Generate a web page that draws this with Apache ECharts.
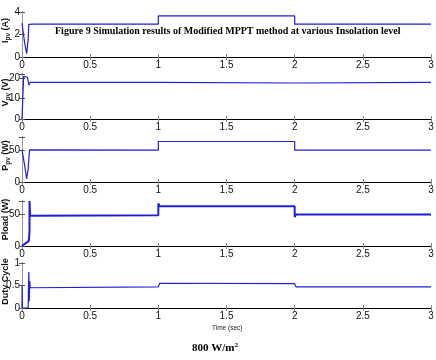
<!DOCTYPE html>
<html>
<head>
<meta charset="utf-8">
<script src="https://cdn.jsdelivr.net/npm/echarts@6/dist/echarts.min.js"></script>
<style>
    html, body { margin: 0; padding: 0; background: #fff; }
    #chart { width: 436px; height: 360px; }
</style>
</head>
<body>
<div id="chart"></div>
<script>
// time axis ticks (sec)
const timeTicks = [0, 0.5, 1, 1.5, 2, 2.5, 3];

// PV current (A)
const ipvTime = [0, 0.005, 0.02, 0.034, 0.045, 0.05, 0.055, 0.06, 0.08, 1.0, 1.0, 2.0, 2.0, 3.0];
const ipvVal = [3.0, 3.0, 1.2, 0.3, 1.5, 2.9, 3.0, 2.9, 2.92, 2.92, 3.65, 3.65, 2.92, 2.92];

// PV voltage (V)
const vpvTime = [0, 0.012, 0.02, 0.04, 0.05, 0.06, 1.0, 1.0, 2.0, 2.0, 3.0];
const vpvVal = [0, 20.8, 20.5, 20.4, 16.5, 17.9, 17.9, 17.6, 17.6, 17.9, 17.9];

// PV power (W)
const ppvTime = [0, 0.008, 0.02, 0.034, 0.045, 0.055, 0.06, 1.0, 1.0, 2.0, 2.0, 3.0];
const ppvVal = [50, 50, 25, 5, 20, 50, 49.5, 49.5, 63, 63, 49.5, 49.5];

// load power (W)
const ploadTime = [0, 0.05, 0.055, 0.055, 0.06, 0.07, 1.0, 1.0, 1.01, 2.0, 2.0, 2.01, 3.0];
const ploadVal = [0, 8, 22, 70, 47, 48, 48, 66, 62, 62, 45, 49, 49];

// duty cycle
const dutyTime = [0, 0.001, 0.003, 0.045, 0.05, 0.053, 0.057, 0.06, 0.07, 1.0, 1.01, 2.0, 2.01, 3.0];
const dutyVal = [0, 0.5, 0, 0, 0.8, 0.15, 0.6, 0.45, 0.47, 0.47, 0.55, 0.54, 0.47, 0.47];

const zip = (t, v) => t.map((x, i) => [x, v[i]]);

const panels = [
    { name: "{m|I}{s|pv}{m| (A)}", max: 4, interval: 2, data: zip(ipvTime, ipvVal), width: 1.2 },
    { name: "{m|V}{s|pv}{m| (V)}", max: 22, interval: 10, data: zip(vpvTime, vpvVal), width: 1.2 },
    { name: "{m|P}{s|pv}{m| (W)}", max: 70, interval: 50, data: zip(ppvTime, ppvVal), width: 1.2 },
    { name: "{m|Pload (W)}", max: 70, interval: 50, data: zip(ploadTime, ploadVal), width: 2 },
    { name: "{m|Duty Cycle}", max: 1, interval: 0.5, data: zip(dutyTime, dutyVal), width: 1.2 },
];
const tops = [12, 74, 137, 201, 263];
const panelH = 45;
const lineColor = "#1f1fd8";

const nameRich = {
    m: { fontSize: 9, fontWeight: "bold", fontFamily: "Liberation Sans", fill: "#111" },
    s: { fontSize: 6.5, fontWeight: "bold", fontFamily: "Liberation Sans", fill: "#111", padding: [4, 0, 0, 0] },
};

const grid = [], xAxis = [], yAxis = [], series = [], names = [];
panels.forEach((p, i) => {
    grid.push({ left: 22, right: 5, top: tops[i], height: panelH, containLabel: false, outerBoundsMode: "none" });
    // bottom axis with labels
    xAxis.push({
        gridIndex: i, type: "value", min: 0, max: 3, interval: 0.5,
        axisLine: { lineStyle: { color: "#000", width: 1 } },
        axisTick: { inside: true, length: 3, lineStyle: { color: "#888" } },
        axisLabel: { color: "#111", fontSize: 10, fontFamily: "Liberation Sans", margin: 3 },
        splitLine: { show: false },
    });
    // top frame
    xAxis.push({
        gridIndex: i, type: "value", min: 0, max: 3, interval: 0.5, position: "top",
        axisLine: { lineStyle: { color: "#000", width: 1 } },
        axisTick: { inside: true, length: 3, lineStyle: { color: "#888" } },
        axisLabel: { show: false },
        splitLine: { show: false },
    });
    yAxis.push({
        gridIndex: i, type: "value", min: 0, max: p.max, interval: p.interval,
        axisLine: { show: true, lineStyle: { color: "#000", width: 1 } },
        axisTick: { inside: true, length: 3, lineStyle: { color: "#555" } },
        axisLabel: {
            color: "#111", fontSize: 10, fontFamily: "Liberation Sans", margin: 2,
            formatter: (v) => (Math.abs(v / p.interval - Math.round(v / p.interval)) < 1e-6 ? String(v) : ""),
        },
        splitLine: { show: false },
    });
    // right frame
    yAxis.push({
        gridIndex: i, type: "value", min: 0, max: p.max, interval: p.interval, position: "right",
        axisLine: { show: true, lineStyle: { color: "#999", width: 1 } },
        axisTick: { inside: true, length: 3, lineStyle: { color: "#555" } },
        axisLabel: { show: false },
        splitLine: { show: false },
    });
    series.push({
        type: "line", xAxisIndex: i * 2, yAxisIndex: i * 2,
        data: p.data, showSymbol: false, animation: false,
        lineStyle: { color: lineColor, width: p.width },
    });
    // rotated axis title
    names.push({
        type: "text", x: 6, y: tops[i] + panelH / 2 - 4, rotation: Math.PI / 2,
        style: { text: p.name, rich: nameRich, align: "center", verticalAlign: "middle" },
    });
});

const chart = echarts.init(document.getElementById("chart"));
chart.setOption({
    backgroundColor: "#fff",
    animation: false,
    grid, xAxis, yAxis, series,
    graphic: names.concat([
        {
            type: "text", left: 55, top: 26,
            style: {
                text: "Figure 9 Simulation results of Modified MPPT method at various Insolation level",
                fontSize: 10, fontWeight: "bold", fontFamily: "Liberation Serif", fill: "#000",
            },
        },
        {
            type: "text", left: 212, top: 325,
            style: { text: "Time (sec)", fontSize: 6.5, fontFamily: "Liberation Sans", fill: "#222" },
        },
        {
            type: "text", left: 192, top: 342,
            style: {
                rich: {
                    b: { fontSize: 11, fontWeight: "bold", fontFamily: "Liberation Serif", fill: "#000" },
                    p: { fontSize: 7, fontWeight: "bold", fontFamily: "Liberation Serif", fill: "#000", padding: [0, 0, 6, 0] },
                },
                text: "{b|800 W/m}{p|2}",
            },
        },
    ]),
});
</script>
</body>
</html>
